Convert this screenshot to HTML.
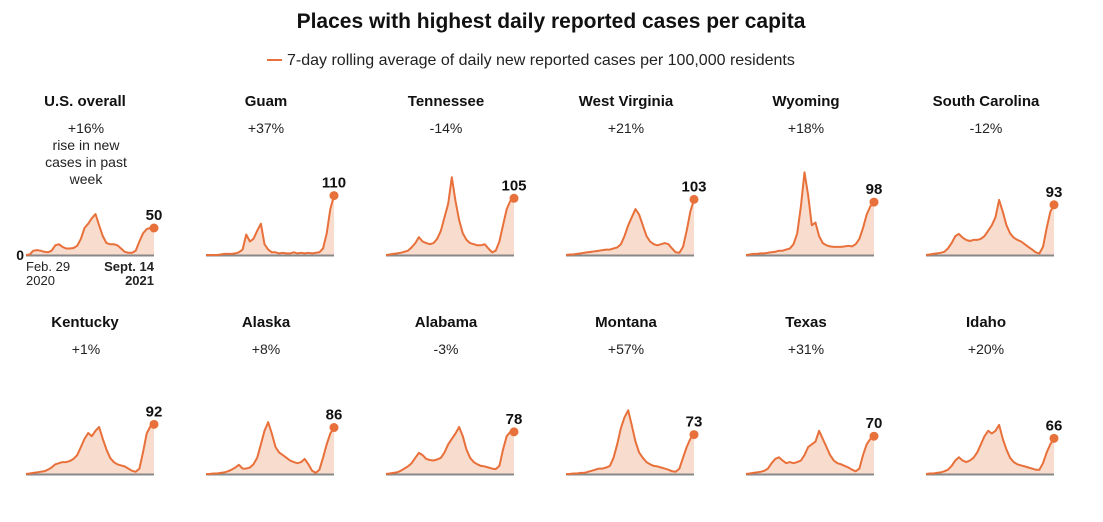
<!DOCTYPE html>
<html><head><meta charset="utf-8"><style>
body{margin:0;background:#fff;width:1103px;height:517px;overflow:hidden;font-family:"Liberation Sans",Arial,sans-serif}
svg text{font-family:"Liberation Sans",Arial,sans-serif}
</style></head><body>
<svg id="chart" width="1103" height="517" xmlns="http://www.w3.org/2000/svg">
<text x="551" y="28" text-anchor="middle" font-size="21" font-weight="bold" fill="#111">Places with highest daily reported cases per capita</text>
<g>
<line x1="267" y1="60" x2="282" y2="60" stroke="#e8703a" stroke-width="2"/>
<text x="287" y="65" font-size="16" fill="#222">7-day rolling average of daily new reported cases per 100,000 residents</text>
</g>
<g id="panels"></g>
</svg>
<script>
const names=["U.S. overall","Guam","Tennessee","West Virginia","Wyoming","South Carolina","Kentucky","Alaska","Alabama","Montana","Texas","Idaho"];
const changes=["+16%","+37%","-14%","+21%","+18%","-12%","+1%","+8%","-3%","+57%","+31%","+20%"];
const latest=[50,110,105,103,98,93,92,86,78,73,70,66];
const sUS=[0,1,8,9,8,6,5,8,18,20,15,12,12,13,17,30,50,58,68,76,55,35,22,20,20,18,12,6,4,4,8,25,40,48,50,50];
const sGU=[0,0,0,0,1,2,2,2,3,5,10,38,25,30,45,58,20,10,5,5,3,4,3,3,5,3,4,3,4,3,4,5,12,40,85,110];
const sTN=[0,1,2,3,4,6,8,14,22,33,25,22,20,22,30,45,70,95,144,100,65,40,28,22,20,18,18,20,12,5,8,25,55,85,100,105];
const sWV=[0,1,1,2,3,4,5,6,7,8,9,10,10,12,14,20,35,55,70,85,75,55,35,25,20,18,20,22,20,12,5,4,15,45,80,103];
const sWY=[0,1,2,2,3,3,4,5,6,8,8,10,12,20,40,90,153,110,55,60,35,22,18,16,15,15,15,16,17,16,20,30,50,75,90,98];
const sSC=[0,1,2,3,4,6,12,22,35,39,32,28,26,28,28,30,35,45,55,70,102,80,55,40,32,28,25,20,15,10,5,3,15,50,80,93];
const sKY=[0,1,2,3,4,5,8,12,18,20,22,22,24,28,35,50,65,76,70,80,87,65,45,30,22,18,16,14,10,6,4,10,40,75,88,92];
const sAK=[0,0,1,1,2,3,5,8,12,17,10,10,12,18,30,55,80,96,75,50,40,35,30,25,22,20,22,28,18,6,2,8,30,55,75,86];
const sAL=[0,1,2,3,6,10,14,20,30,39,35,28,26,25,27,30,40,55,65,75,87,70,45,30,22,18,15,14,12,10,9,15,45,70,78,78];
const sMT=[0,0,1,1,2,2,4,6,8,10,10,12,15,30,55,85,105,118,90,60,40,30,22,18,15,14,12,10,8,5,4,10,30,50,65,73];
const sTX=[0,1,2,3,4,6,10,20,28,31,25,20,22,20,22,25,35,50,55,60,80,65,50,35,25,20,18,15,12,8,5,10,35,55,65,70];
const sID=[0,1,1,2,3,5,8,15,25,31,25,22,25,30,40,55,70,80,75,80,91,65,45,30,22,18,16,14,12,10,8,8,20,40,55,66];
const series=[sUS,sGU,sTN,sWV,sWY,sSC,sKY,sAK,sAL,sMT,sTX,sID];

const NS="http://www.w3.org/2000/svg";
const root=document.getElementById('panels');
const W=128,K=0.54;
function mk(tag,attrs,parent){const e=document.createElementNS(NS,tag);for(const k in attrs)e.setAttribute(k,attrs[k]);parent.appendChild(e);return e;}
names.forEach((nm,p)=>{
  const col=p%6,row=Math.floor(p/6);
  const x0=26+col*180, base=row?474:255, cx=x0+W/2+ (col===0?0:-0) ;
  const tY=row?327:106;
  const g=mk('g',{},root);
  
  
  const t=mk('text',{x:x0+W/2-(col===0?1:0)-4,y:tY,'text-anchor':'middle','font-size':15,'font-weight':'bold',fill:'#111'},g);t.textContent=nm;
  
  
  const c=mk('text',{x:x0+W/2-4,y:tY+27,'text-anchor':'middle','font-size':14,fill:'#222'},g);c.textContent=changes[p];
  
  
  if(p===0){["rise in new","cases in past","week"].forEach((s,i)=>{const e=mk('text',{x:x0+W/2-4,y:tY+44+i*17,'text-anchor':'middle','font-size':14,fill:'#222'},g);e.textContent=s;});}
  const s=series[p],n=s.length;
  const xs=i=>x0+i*(W)/(n-1), ys=v=>base-v*K;
  let d='';s.forEach((v,i)=>{d+=(i?'L':'M')+xs(i).toFixed(1)+','+ys(v).toFixed(1);});
  const area=mk('path',{d:d+'L'+xs(n-1)+','+base+'L'+x0+','+base+'Z',fill:'#f6d3c2','fill-opacity':0.8},g);
  
  
  const bl=mk('line',{x1:x0,x2:x0+W,y1:base+0.5,y2:base+0.5,stroke:'#888','stroke-width':2},g);
  
  
  const ln=mk('path',{d:d,fill:'none',stroke:'#e8703a','stroke-width':2,'stroke-linejoin':'round'},g);
  
  
  const last=latest[p];
  const dot=mk('circle',{cx:xs(n-1),cy:ys(last),r:4.5,fill:'#e8703a'},g);
  
  
  const lb=mk('text',{x:xs(n-1),y:ys(last)-8,'text-anchor':'middle','font-size':15,'font-weight':'bold',fill:'#111'},g);lb.textContent=last;
  
  
  if(p===0){
    const z=mk('text',{x:x0-2,y:base+5,'text-anchor':'end','font-size':14,'font-weight':'bold',fill:'#111'},g);z.textContent='0';
    
    
    [['Feb. 29',x0,base+16,'start','normal'],['2020',x0,base+30,'start','normal'],['Sept. 14',x0+W,base+16,'end','bold'],['2021',x0+W,base+30,'end','bold']].forEach(a=>{
      const e=mk('text',{x:a[1],y:a[2],'text-anchor':a[3],'font-size':13,'font-weight':a[4],fill:'#222'},g);e.textContent=a[0];
      
      
    });
  }
});
</script>
</body></html>
